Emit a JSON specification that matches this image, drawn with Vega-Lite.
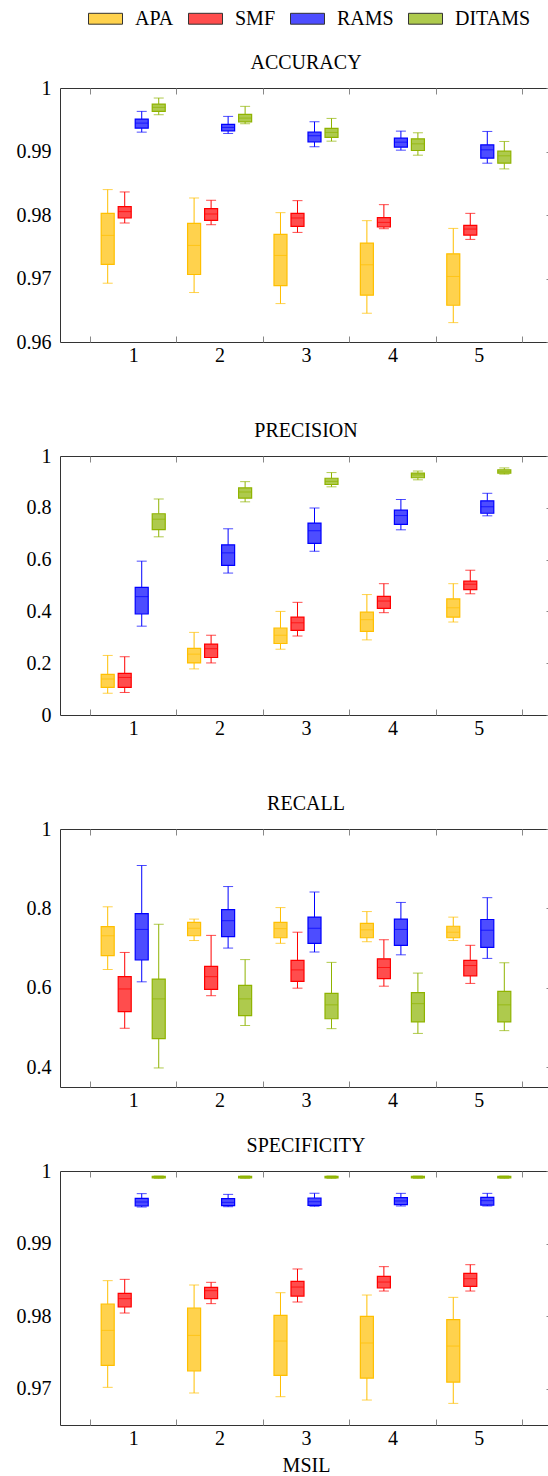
{
"$schema":"https://vega.github.io/schema/vega-lite/v6.json",
"padding":{"left":15,"top":1,"right":0,"bottom":1},
"spacing":24,
"config":{
 "font":"Liberation Serif",
 "view":{"stroke":"#333","strokeWidth":1},
 "axis":{"labelFont":"Liberation Serif","labelFontSize":20,"labelColor":"#000","titleFont":"Liberation Serif","titleFontSize":20,"titleFontWeight":"normal","titleColor":"#000","grid":false,"domain":false,"tickColor":"#888","tickWidth":1},
 "title":{"font":"Liberation Serif","fontSize":20,"fontWeight":"normal","color":"#000","anchor":"middle","frame":"group","offset":5},
 "legend":{"labelFont":"Liberation Serif","labelFontSize":20,"labelColor":"#000"}
},
"data":{"values":[
{"metric":"ACCURACY","msil":1,"method":"APA","lo":0.96926,"q1":0.97221,"med":0.97679,"q3":0.98026,"hi":0.984},
{"metric":"ACCURACY","msil":1,"method":"SMF","lo":0.97874,"q1":0.97953,"med":0.98053,"q3":0.98132,"hi":0.98363},
{"metric":"ACCURACY","msil":1,"method":"RAMS","lo":0.99305,"q1":0.99368,"med":0.99447,"q3":0.99511,"hi":0.99632},
{"metric":"ACCURACY","msil":1,"method":"DITAMS","lo":0.99579,"q1":0.99632,"med":0.99695,"q3":0.99747,"hi":0.99842},
{"metric":"ACCURACY","msil":2,"method":"APA","lo":0.96779,"q1":0.97063,"med":0.97521,"q3":0.97868,"hi":0.98268},
{"metric":"ACCURACY","msil":2,"method":"SMF","lo":0.97847,"q1":0.97916,"med":0.98016,"q3":0.981,"hi":0.98232},
{"metric":"ACCURACY","msil":2,"method":"RAMS","lo":0.99284,"q1":0.99326,"med":0.99379,"q3":0.99426,"hi":0.99553},
{"metric":"ACCURACY","msil":2,"method":"DITAMS","lo":0.99437,"q1":0.99468,"med":0.99526,"q3":0.99584,"hi":0.99711},
{"metric":"ACCURACY","msil":3,"method":"APA","lo":0.96605,"q1":0.96889,"med":0.97363,"q3":0.97695,"hi":0.98037},
{"metric":"ACCURACY","msil":3,"method":"SMF","lo":0.97726,"q1":0.97821,"med":0.97953,"q3":0.98026,"hi":0.98226},
{"metric":"ACCURACY","msil":3,"method":"RAMS","lo":0.99074,"q1":0.99153,"med":0.99247,"q3":0.99305,"hi":0.99468},
{"metric":"ACCURACY","msil":3,"method":"DITAMS","lo":0.99163,"q1":0.99221,"med":0.993,"q3":0.99363,"hi":0.99521},
{"metric":"ACCURACY","msil":4,"method":"APA","lo":0.96453,"q1":0.96737,"med":0.97216,"q3":0.97558,"hi":0.97911},
{"metric":"ACCURACY","msil":4,"method":"SMF","lo":0.97784,"q1":0.97811,"med":0.97884,"q3":0.97958,"hi":0.98163},
{"metric":"ACCURACY","msil":4,"method":"RAMS","lo":0.99021,"q1":0.99068,"med":0.99147,"q3":0.99211,"hi":0.99321},
{"metric":"ACCURACY","msil":4,"method":"DITAMS","lo":0.98942,"q1":0.99016,"med":0.99121,"q3":0.992,"hi":0.99295},
{"metric":"ACCURACY","msil":5,"method":"APA","lo":0.96305,"q1":0.96579,"med":0.97032,"q3":0.97389,"hi":0.97789},
{"metric":"ACCURACY","msil":5,"method":"SMF","lo":0.97616,"q1":0.97684,"med":0.97779,"q3":0.97837,"hi":0.98026},
{"metric":"ACCURACY","msil":5,"method":"RAMS","lo":0.98816,"q1":0.98895,"med":0.99026,"q3":0.99105,"hi":0.99316},
{"metric":"ACCURACY","msil":5,"method":"DITAMS","lo":0.98726,"q1":0.98816,"med":0.98932,"q3":0.99005,"hi":0.99158},
{"metric":"PRECISION","msil":1,"method":"APA","lo":0.084,"q1":0.107,"med":0.139,"q3":0.157,"hi":0.23},
{"metric":"PRECISION","msil":1,"method":"SMF","lo":0.087,"q1":0.107,"med":0.145,"q3":0.161,"hi":0.225},
{"metric":"PRECISION","msil":1,"method":"RAMS","lo":0.343,"q1":0.39,"med":0.457,"q3":0.493,"hi":0.594},
{"metric":"PRECISION","msil":1,"method":"DITAMS","lo":0.688,"q1":0.716,"med":0.756,"q3":0.777,"hi":0.834},
{"metric":"PRECISION","msil":2,"method":"APA","lo":0.178,"q1":0.201,"med":0.235,"q3":0.257,"hi":0.319},
{"metric":"PRECISION","msil":2,"method":"SMF","lo":0.201,"q1":0.222,"med":0.256,"q3":0.274,"hi":0.308},
{"metric":"PRECISION","msil":2,"method":"RAMS","lo":0.548,"q1":0.578,"med":0.626,"q3":0.657,"hi":0.719},
{"metric":"PRECISION","msil":2,"method":"DITAMS","lo":0.823,"q1":0.837,"med":0.861,"q3":0.877,"hi":0.901},
{"metric":"PRECISION","msil":3,"method":"APA","lo":0.254,"q1":0.276,"med":0.308,"q3":0.336,"hi":0.4},
{"metric":"PRECISION","msil":3,"method":"SMF","lo":0.305,"q1":0.327,"med":0.356,"q3":0.378,"hi":0.435},
{"metric":"PRECISION","msil":3,"method":"RAMS","lo":0.632,"q1":0.663,"med":0.711,"q3":0.741,"hi":0.799},
{"metric":"PRECISION","msil":3,"method":"DITAMS","lo":0.881,"q1":0.89,"med":0.902,"q3":0.914,"hi":0.936},
{"metric":"PRECISION","msil":4,"method":"APA","lo":0.29,"q1":0.323,"med":0.368,"q3":0.397,"hi":0.465},
{"metric":"PRECISION","msil":4,"method":"SMF","lo":0.395,"q1":0.412,"med":0.44,"q3":0.458,"hi":0.507},
{"metric":"PRECISION","msil":4,"method":"RAMS","lo":0.715,"q1":0.736,"med":0.77,"q3":0.791,"hi":0.832},
{"metric":"PRECISION","msil":4,"method":"DITAMS","lo":0.908,"q1":0.916,"med":0.927,"q3":0.934,"hi":0.942},
{"metric":"PRECISION","msil":5,"method":"APA","lo":0.359,"q1":0.378,"med":0.414,"q3":0.448,"hi":0.507},
{"metric":"PRECISION","msil":5,"method":"SMF","lo":0.468,"q1":0.484,"med":0.505,"q3":0.517,"hi":0.559},
{"metric":"PRECISION","msil":5,"method":"RAMS","lo":0.769,"q1":0.779,"med":0.804,"q3":0.827,"hi":0.856},
{"metric":"PRECISION","msil":5,"method":"DITAMS","lo":0.93,"q1":0.934,"med":0.941,"q3":0.947,"hi":0.954},
{"metric":"RECALL","msil":1,"method":"APA","lo":0.646,"q1":0.681,"med":0.731,"q3":0.754,"hi":0.804},
{"metric":"RECALL","msil":1,"method":"SMF","lo":0.498,"q1":0.54,"med":0.597,"q3":0.628,"hi":0.689},
{"metric":"RECALL","msil":1,"method":"RAMS","lo":0.615,"q1":0.67,"med":0.747,"q3":0.787,"hi":0.908},
{"metric":"RECALL","msil":1,"method":"DITAMS","lo":0.398,"q1":0.472,"med":0.572,"q3":0.622,"hi":0.76},
{"metric":"RECALL","msil":2,"method":"APA","lo":0.719,"q1":0.731,"med":0.75,"q3":0.765,"hi":0.773},
{"metric":"RECALL","msil":2,"method":"SMF","lo":0.58,"q1":0.596,"med":0.628,"q3":0.654,"hi":0.732},
{"metric":"RECALL","msil":2,"method":"RAMS","lo":0.7,"q1":0.729,"med":0.769,"q3":0.797,"hi":0.855},
{"metric":"RECALL","msil":2,"method":"DITAMS","lo":0.505,"q1":0.53,"med":0.572,"q3":0.606,"hi":0.671},
{"metric":"RECALL","msil":3,"method":"APA","lo":0.712,"q1":0.726,"med":0.749,"q3":0.765,"hi":0.802},
{"metric":"RECALL","msil":3,"method":"SMF","lo":0.599,"q1":0.616,"med":0.645,"q3":0.669,"hi":0.74},
{"metric":"RECALL","msil":3,"method":"RAMS","lo":0.69,"q1":0.712,"med":0.75,"q3":0.778,"hi":0.841},
{"metric":"RECALL","msil":3,"method":"DITAMS","lo":0.497,"q1":0.522,"med":0.557,"q3":0.586,"hi":0.664},
{"metric":"RECALL","msil":4,"method":"APA","lo":0.716,"q1":0.726,"med":0.746,"q3":0.762,"hi":0.792},
{"metric":"RECALL","msil":4,"method":"SMF","lo":0.604,"q1":0.623,"med":0.651,"q3":0.673,"hi":0.721},
{"metric":"RECALL","msil":4,"method":"RAMS","lo":0.683,"q1":0.707,"med":0.747,"q3":0.773,"hi":0.815},
{"metric":"RECALL","msil":4,"method":"DITAMS","lo":0.485,"q1":0.514,"med":0.56,"q3":0.588,"hi":0.637},
{"metric":"RECALL","msil":5,"method":"APA","lo":0.719,"q1":0.726,"med":0.74,"q3":0.755,"hi":0.778},
{"metric":"RECALL","msil":5,"method":"SMF","lo":0.611,"q1":0.63,"med":0.656,"q3":0.669,"hi":0.707},
{"metric":"RECALL","msil":5,"method":"RAMS","lo":0.674,"q1":0.702,"med":0.745,"q3":0.772,"hi":0.827},
{"metric":"RECALL","msil":5,"method":"DITAMS","lo":0.492,"q1":0.514,"med":0.557,"q3":0.591,"hi":0.663},
{"metric":"SPECIFICITY","msil":1,"method":"APA","lo":0.97019,"q1":0.97322,"med":0.97804,"q3":0.98167,"hi":0.98489},
{"metric":"SPECIFICITY","msil":1,"method":"SMF","lo":0.98043,"q1":0.98126,"med":0.98241,"q3":0.98314,"hi":0.98507},
{"metric":"SPECIFICITY","msil":1,"method":"RAMS","lo":0.99504,"q1":0.99518,"med":0.99573,"q3":0.99623,"hi":0.99688},
{"metric":"SPECIFICITY","msil":1,"method":"DITAMS","lo":0.99899,"q1":0.99904,"med":0.99917,"q3":0.99926,"hi":0.99931},
{"metric":"SPECIFICITY","msil":2,"method":"APA","lo":0.96941,"q1":0.97244,"med":0.97735,"q3":0.98112,"hi":0.98429},
{"metric":"SPECIFICITY","msil":2,"method":"SMF","lo":0.98172,"q1":0.98241,"med":0.98351,"q3":0.98397,"hi":0.98466},
{"metric":"SPECIFICITY","msil":2,"method":"RAMS","lo":0.99508,"q1":0.99522,"med":0.99568,"q3":0.99619,"hi":0.99678},
{"metric":"SPECIFICITY","msil":2,"method":"DITAMS","lo":0.99899,"q1":0.99904,"med":0.99917,"q3":0.99926,"hi":0.99931},
{"metric":"SPECIFICITY","msil":3,"method":"APA","lo":0.9689,"q1":0.97184,"med":0.97657,"q3":0.98011,"hi":0.98323},
{"metric":"SPECIFICITY","msil":3,"method":"SMF","lo":0.98195,"q1":0.98277,"med":0.98401,"q3":0.9848,"hi":0.9865},
{"metric":"SPECIFICITY","msil":3,"method":"RAMS","lo":0.99513,"q1":0.99527,"med":0.99577,"q3":0.99628,"hi":0.99692},
{"metric":"SPECIFICITY","msil":3,"method":"DITAMS","lo":0.99899,"q1":0.99904,"med":0.99917,"q3":0.99926,"hi":0.99931},
{"metric":"SPECIFICITY","msil":4,"method":"APA","lo":0.96844,"q1":0.97147,"med":0.9763,"q3":0.97997,"hi":0.98291},
{"metric":"SPECIFICITY","msil":4,"method":"SMF","lo":0.98346,"q1":0.98388,"med":0.9847,"q3":0.98548,"hi":0.98682},
{"metric":"SPECIFICITY","msil":4,"method":"RAMS","lo":0.99518,"q1":0.99536,"med":0.99587,"q3":0.99633,"hi":0.99692},
{"metric":"SPECIFICITY","msil":4,"method":"DITAMS","lo":0.99899,"q1":0.99904,"med":0.99917,"q3":0.99926,"hi":0.99931},
{"metric":"SPECIFICITY","msil":5,"method":"APA","lo":0.96798,"q1":0.97092,"med":0.97588,"q3":0.97951,"hi":0.98259},
{"metric":"SPECIFICITY","msil":5,"method":"SMF","lo":0.98346,"q1":0.98411,"med":0.98516,"q3":0.9859,"hi":0.98709},
{"metric":"SPECIFICITY","msil":5,"method":"RAMS","lo":0.99518,"q1":0.99531,"med":0.99591,"q3":0.99637,"hi":0.99692},
{"metric":"SPECIFICITY","msil":5,"method":"DITAMS","lo":0.99899,"q1":0.99904,"med":0.99917,"q3":0.99926,"hi":0.99931}
]},
"vconcat":[
{
 "width":492,"height":254,
 "title":{"text":"ACCURACY"},
 "transform":[{"filter":{"field":"metric","equal":"ACCURACY"}}],
 "encoding":{
  "x":{"field":"msil","type":"ordinal","scale":{"paddingInner":0,"paddingOuter":0.3475},"axis":null},
  "xOffset":{"field":"method","type":"nominal","sort":["APA","SMF","RAMS","DITAMS"],"scale":{"domain":["APA","SMF","RAMS","DITAMS"],"paddingInner":0.235,"paddingOuter":0.657}}
 },
 "layer":[
  {"mark":{"type":"rule","strokeWidth":1},"encoding":{
   "x":{"field":"msil","type":"ordinal","axis":{"orient":"bottom","title":"MSIL","titleOpacity":0,"titlePadding":10,"tickBand":"extent","tickSize":-6,"labelAngle":0,"labelPadding":9}},
   "y":{"field":"lo","type":"quantitative","scale":{"domain":[0.96,1],"nice":false,"zero":false},"axis":{"orient":"left","title":null,"values":[0.96,0.97,0.98,0.99,1],"format":"~g","ticks":false,"labelPadding":9}},
   "y2":{"field":"q1"},
   "stroke":{"field":"method","type":"nominal","scale":{"domain":["DITAMS","RAMS","SMF","APA"],"range":["#8FB300","#0000FF","#FF0000","#FFBF00"]},"legend":null}}},
  {"mark":{"type":"rule","strokeWidth":1},"encoding":{
   "x":{"field":"msil","type":"ordinal","axis":{"orient":"top","title":null,"labels":false,"tickBand":"extent","tickSize":-6}},
   "y":{"field":"q3","type":"quantitative","scale":{"domain":[0.96,1],"nice":false,"zero":false},"axis":{"orient":"right","title":null,"labels":false,"values":[0.96,0.97,0.98,0.99,1],"tickSize":-6}},
   "y2":{"field":"hi"},
   "stroke":{"field":"method","type":"nominal","legend":null}}},
  {"mark":{"type":"tick","size":10,"thickness":1},"encoding":{
   "y":{"field":"lo","type":"quantitative","axis":null},
   "color":{"field":"method","type":"nominal","scale":{"domain":["DITAMS","RAMS","SMF","APA"],"range":["#8FB300","#0000FF","#FF0000","#FFBF00"]},"legend":null}}},
  {"mark":{"type":"tick","size":10,"thickness":1},"encoding":{
   "y":{"field":"hi","type":"quantitative","axis":null},
   "color":{"field":"method","type":"nominal","legend":null}}},
  {"mark":{"type":"bar","strokeWidth":1.2},"encoding":{
   "y":{"field":"q1","type":"quantitative","axis":null},
   "y2":{"field":"q3"},
   "fill":{"field":"method","type":"nominal","scale":{"domain":["APA","SMF","RAMS","DITAMS"],"range":["#FFD24D","#FF4D4D","#4D4DFF","#AECA4D"]},"legend":{"orient":"none","legendX":28,"legendY":-87,"direction":"horizontal","title":null,"symbolType":"M-1,-0.32H1V0.32H-1Z","symbolSize":1156,"symbolStrokeColor":"#333","symbolStrokeWidth":1,"labelOffset":12,"columnPadding":12}},
   "stroke":{"field":"method","type":"nominal","legend":null}}},
  {"mark":{"type":"tick","size":13,"thickness":1},"encoding":{
   "y":{"field":"med","type":"quantitative","axis":null},
   "color":{"field":"method","type":"nominal","legend":null}}}
 ],
 "resolve":{"axis":{"x":"independent","y":"independent"}}
},
{
 "width":492,"height":259,
 "title":{"text":"PRECISION"},
 "transform":[{"filter":{"field":"metric","equal":"PRECISION"}}],
 "encoding":{
  "x":{"field":"msil","type":"ordinal","scale":{"paddingInner":0,"paddingOuter":0.3475},"axis":null},
  "xOffset":{"field":"method","type":"nominal","sort":["APA","SMF","RAMS","DITAMS"],"scale":{"domain":["APA","SMF","RAMS","DITAMS"],"paddingInner":0.235,"paddingOuter":0.657}}
 },
 "layer":[
  {"mark":{"type":"rule","strokeWidth":1},"encoding":{
   "x":{"field":"msil","type":"ordinal","axis":{"orient":"bottom","title":"MSIL","titleOpacity":0,"titlePadding":10,"tickBand":"extent","tickSize":-6,"labelAngle":0,"labelPadding":9}},
   "y":{"field":"lo","type":"quantitative","scale":{"domain":[0,1],"nice":false,"zero":false},"axis":{"orient":"left","title":null,"values":[0,0.2,0.4,0.6,0.8,1],"format":"~g","ticks":false,"labelPadding":9}},
   "y2":{"field":"q1"},
   "stroke":{"field":"method","type":"nominal","legend":null}}},
  {"mark":{"type":"rule","strokeWidth":1},"encoding":{
   "x":{"field":"msil","type":"ordinal","axis":{"orient":"top","title":null,"labels":false,"tickBand":"extent","tickSize":-6}},
   "y":{"field":"q3","type":"quantitative","scale":{"domain":[0,1],"nice":false,"zero":false},"axis":{"orient":"right","title":null,"labels":false,"values":[0,0.2,0.4,0.6,0.8,1],"tickSize":-6}},
   "y2":{"field":"hi"},
   "stroke":{"field":"method","type":"nominal","legend":null}}},
  {"mark":{"type":"tick","size":10,"thickness":1},"encoding":{
   "y":{"field":"lo","type":"quantitative","axis":null},
   "color":{"field":"method","type":"nominal","legend":null}}},
  {"mark":{"type":"tick","size":10,"thickness":1},"encoding":{
   "y":{"field":"hi","type":"quantitative","axis":null},
   "color":{"field":"method","type":"nominal","legend":null}}},
  {"mark":{"type":"bar","strokeWidth":1.2},"encoding":{
   "y":{"field":"q1","type":"quantitative","axis":null},
   "y2":{"field":"q3"},
   "fill":{"field":"method","type":"nominal","legend":{"orient":"none","legendX":28,"legendY":-87,"direction":"horizontal","title":null,"symbolType":"M-1,-0.32H1V0.32H-1Z","symbolSize":1156,"symbolStrokeColor":"#333","symbolStrokeWidth":1,"labelOffset":12,"columnPadding":12}},
   "stroke":{"field":"method","type":"nominal","legend":null}}},
  {"mark":{"type":"tick","size":13,"thickness":1},"encoding":{
   "y":{"field":"med","type":"quantitative","axis":null},
   "color":{"field":"method","type":"nominal","legend":null}}}
 ],
 "resolve":{"axis":{"x":"independent","y":"independent"}}
},
{
 "width":492,"height":258,
 "title":{"text":"RECALL"},
 "transform":[{"filter":{"field":"metric","equal":"RECALL"}}],
 "encoding":{
  "x":{"field":"msil","type":"ordinal","scale":{"paddingInner":0,"paddingOuter":0.3475},"axis":null},
  "xOffset":{"field":"method","type":"nominal","sort":["APA","SMF","RAMS","DITAMS"],"scale":{"domain":["APA","SMF","RAMS","DITAMS"],"paddingInner":0.235,"paddingOuter":0.657}}
 },
 "layer":[
  {"mark":{"type":"rule","strokeWidth":1},"encoding":{
   "x":{"field":"msil","type":"ordinal","axis":{"orient":"bottom","title":null,"tickBand":"extent","tickSize":-6,"labelAngle":0,"labelPadding":9}},
   "y":{"field":"lo","type":"quantitative","scale":{"domain":[0.35,1],"nice":false,"zero":false},"axis":{"orient":"left","title":null,"values":[0.4,0.6,0.8,1],"format":"~g","ticks":false,"labelPadding":9}},
   "y2":{"field":"q1"},
   "stroke":{"field":"method","type":"nominal","legend":null}}},
  {"mark":{"type":"rule","strokeWidth":1},"encoding":{
   "x":{"field":"msil","type":"ordinal","axis":{"orient":"top","title":null,"labels":false,"tickBand":"extent","tickSize":-6}},
   "y":{"field":"q3","type":"quantitative","scale":{"domain":[0.35,1],"nice":false,"zero":false},"axis":{"orient":"right","title":null,"labels":false,"values":[0.4,0.6,0.8,1],"tickSize":-6}},
   "y2":{"field":"hi"},
   "stroke":{"field":"method","type":"nominal","legend":null}}},
  {"mark":{"type":"tick","size":10,"thickness":1},"encoding":{
   "y":{"field":"lo","type":"quantitative","axis":null},
   "color":{"field":"method","type":"nominal","legend":null}}},
  {"mark":{"type":"tick","size":10,"thickness":1},"encoding":{
   "y":{"field":"hi","type":"quantitative","axis":null},
   "color":{"field":"method","type":"nominal","legend":null}}},
  {"mark":{"type":"bar","strokeWidth":1.2},"encoding":{
   "y":{"field":"q1","type":"quantitative","axis":null},
   "y2":{"field":"q3"},
   "fill":{"field":"method","type":"nominal","legend":{"orient":"none","legendX":28,"legendY":-87,"direction":"horizontal","title":null,"symbolType":"M-1,-0.32H1V0.32H-1Z","symbolSize":1156,"symbolStrokeColor":"#333","symbolStrokeWidth":1,"labelOffset":12,"columnPadding":12}},
   "stroke":{"field":"method","type":"nominal","legend":null}}},
  {"mark":{"type":"tick","size":13,"thickness":1},"encoding":{
   "y":{"field":"med","type":"quantitative","axis":null},
   "color":{"field":"method","type":"nominal","legend":null}}}
 ],
 "resolve":{"axis":{"x":"independent","y":"independent"}}
},
{
 "width":492,"height":254,
 "title":{"text":"SPECIFICITY"},
 "transform":[{"filter":{"field":"metric","equal":"SPECIFICITY"}}],
 "encoding":{
  "x":{"field":"msil","type":"ordinal","scale":{"paddingInner":0,"paddingOuter":0.3475},"axis":null},
  "xOffset":{"field":"method","type":"nominal","sort":["APA","SMF","RAMS","DITAMS"],"scale":{"domain":["APA","SMF","RAMS","DITAMS"],"paddingInner":0.235,"paddingOuter":0.657}}
 },
 "layer":[
  {"mark":{"type":"rule","strokeWidth":1},"encoding":{
   "x":{"field":"msil","type":"ordinal","axis":{"orient":"bottom","title":"MSIL","titlePadding":7,"tickBand":"extent","tickSize":-6,"labelAngle":0,"labelPadding":9}},
   "y":{"field":"lo","type":"quantitative","scale":{"domain":[0.965,1],"nice":false,"zero":false},"axis":{"orient":"left","title":null,"values":[0.97,0.98,0.99,1],"format":"~g","ticks":false,"labelPadding":9}},
   "y2":{"field":"q1"},
   "stroke":{"field":"method","type":"nominal","legend":null}}},
  {"mark":{"type":"rule","strokeWidth":1},"encoding":{
   "x":{"field":"msil","type":"ordinal","axis":{"orient":"top","title":null,"labels":false,"tickBand":"extent","tickSize":-6}},
   "y":{"field":"q3","type":"quantitative","scale":{"domain":[0.965,1],"nice":false,"zero":false},"axis":{"orient":"right","title":null,"labels":false,"values":[0.97,0.98,0.99,1],"tickSize":-6}},
   "y2":{"field":"hi"},
   "stroke":{"field":"method","type":"nominal","legend":null}}},
  {"mark":{"type":"tick","size":10,"thickness":1},"encoding":{
   "y":{"field":"lo","type":"quantitative","axis":null},
   "color":{"field":"method","type":"nominal","legend":null}}},
  {"mark":{"type":"tick","size":10,"thickness":1},"encoding":{
   "y":{"field":"hi","type":"quantitative","axis":null},
   "color":{"field":"method","type":"nominal","legend":null}}},
  {"mark":{"type":"bar","strokeWidth":1.2},"encoding":{
   "y":{"field":"q1","type":"quantitative","axis":null},
   "y2":{"field":"q3"},
   "fill":{"field":"method","type":"nominal","legend":{"orient":"none","legendX":28,"legendY":-87,"direction":"horizontal","title":null,"symbolType":"M-1,-0.32H1V0.32H-1Z","symbolSize":1156,"symbolStrokeColor":"#333","symbolStrokeWidth":1,"labelOffset":12,"columnPadding":12}},
   "stroke":{"field":"method","type":"nominal","legend":null}}},
  {"mark":{"type":"tick","size":13,"thickness":1},"encoding":{
   "y":{"field":"med","type":"quantitative","axis":null},
   "color":{"field":"method","type":"nominal","legend":null}}}
 ],
 "resolve":{"axis":{"x":"independent","y":"independent"}}
}
]
}
